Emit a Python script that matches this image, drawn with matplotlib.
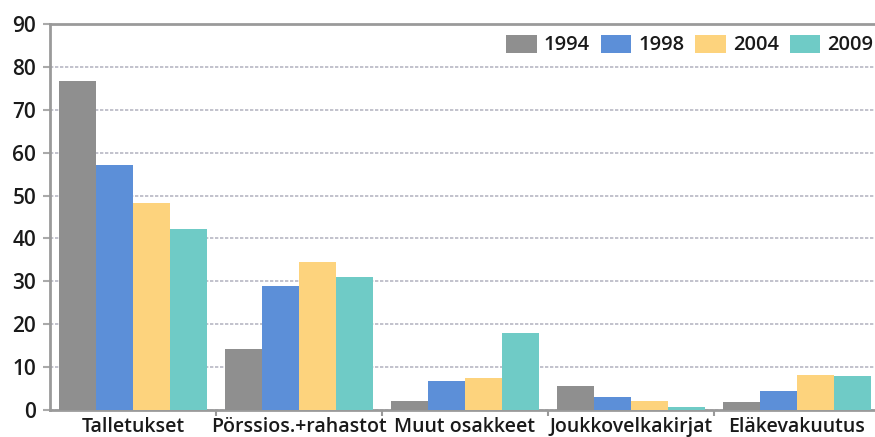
import matplotlib
matplotlib.use("Agg")
import matplotlib.pyplot as plt
import numpy as np
from matplotlib.ticker import FixedLocator

categories = ["Talletukset", "Pörssios.+rahastot", "Muut osakkeet", "Joukkovelkakirjat", "Eläkevakuutus"]
years = ["1994", "1998", "2004", "2009"]
v1994 = [76.7, 14.2, 2.0, 5.5, 1.9]
v1998 = [57.2, 29.0, 6.8, 3.0, 4.4]
v2004 = [48.2, 34.5, 7.5, 2.2, 8.2]
v2009 = [42.3, 31.0, 18.0, 0.8, 7.9]
series = [v1994, v1998, v2004, v2009]
colors = ["#8f8f8f", "#5c8fd8", "#fdd37d", "#6fcbc6"]
yticks = [0, 10, 20, 30, 40, 50, 60, 70, 80, 90]

plt.rcParams['font.family'] = ['Open Sans', 'DejaVu Sans']
W, H = 875, 437
fig = plt.figure(figsize=(W / 100, H / 100), dpi=100)
ax = fig.add_axes([50 / W, (H - 410) / H, 830 / W, 386 / H])

x = np.arange(len(categories))
bw = 0.223
for i, (vals, c, yr) in enumerate(zip(series, colors, years)):
    ax.bar(x + (i - 1.5) * bw, vals, width=bw, color=c, label=yr, zorder=3,
           edgecolor='none', linewidth=0)

ax.set_xlim(-0.5, len(categories) - 0.5)
ax.set_ylim(0, 90)
ax.set_yticks(yticks)
ax.set_xticks(x)
ax.set_xticklabels(categories, fontweight='semibold')
for lab in ax.get_yticklabels():
    lab.set_fontweight('semibold')
ax.xaxis.set_minor_locator(FixedLocator(np.arange(0.5, len(categories) - 0.5, 1.0)))
ax.tick_params(axis='x', which='major', length=0, pad=5, labelsize=14, labelcolor='#1a1a1a')
ax.tick_params(axis='x', which='minor', length=4, width=1.5, color='#999999', direction='out')
ax.tick_params(axis='y', length=5, width=1.5, color='#aaaaaa', pad=5, labelsize=15, labelcolor='#1a1a1a')

ax.yaxis.grid(True, color='#b8b8c4', linestyle=(0, (2, 1)), linewidth=1.2, zorder=0)
ax.set_axisbelow(True)
ax.spines['right'].set_visible(False)
for s in ['left', 'bottom', 'top']:
    ax.spines[s].set_color('#9a9a9a')
    ax.spines[s].set_linewidth(2)

leg = ax.legend(loc='center right', bbox_to_anchor=(873 / W, 1 - 45 / H),
                bbox_transform=fig.transFigure, ncol=4, frameon=False,
                fontsize=14.5, handlelength=1.5, handleheight=1.0,
                handletextpad=0.35, columnspacing=0.55, borderpad=0, borderaxespad=0,
                prop={'weight': 'semibold', 'size': 14.5})
for t in leg.get_texts():
    t.set_color('#1a1a1a')

fig.savefig("out.png", dpi=100)
